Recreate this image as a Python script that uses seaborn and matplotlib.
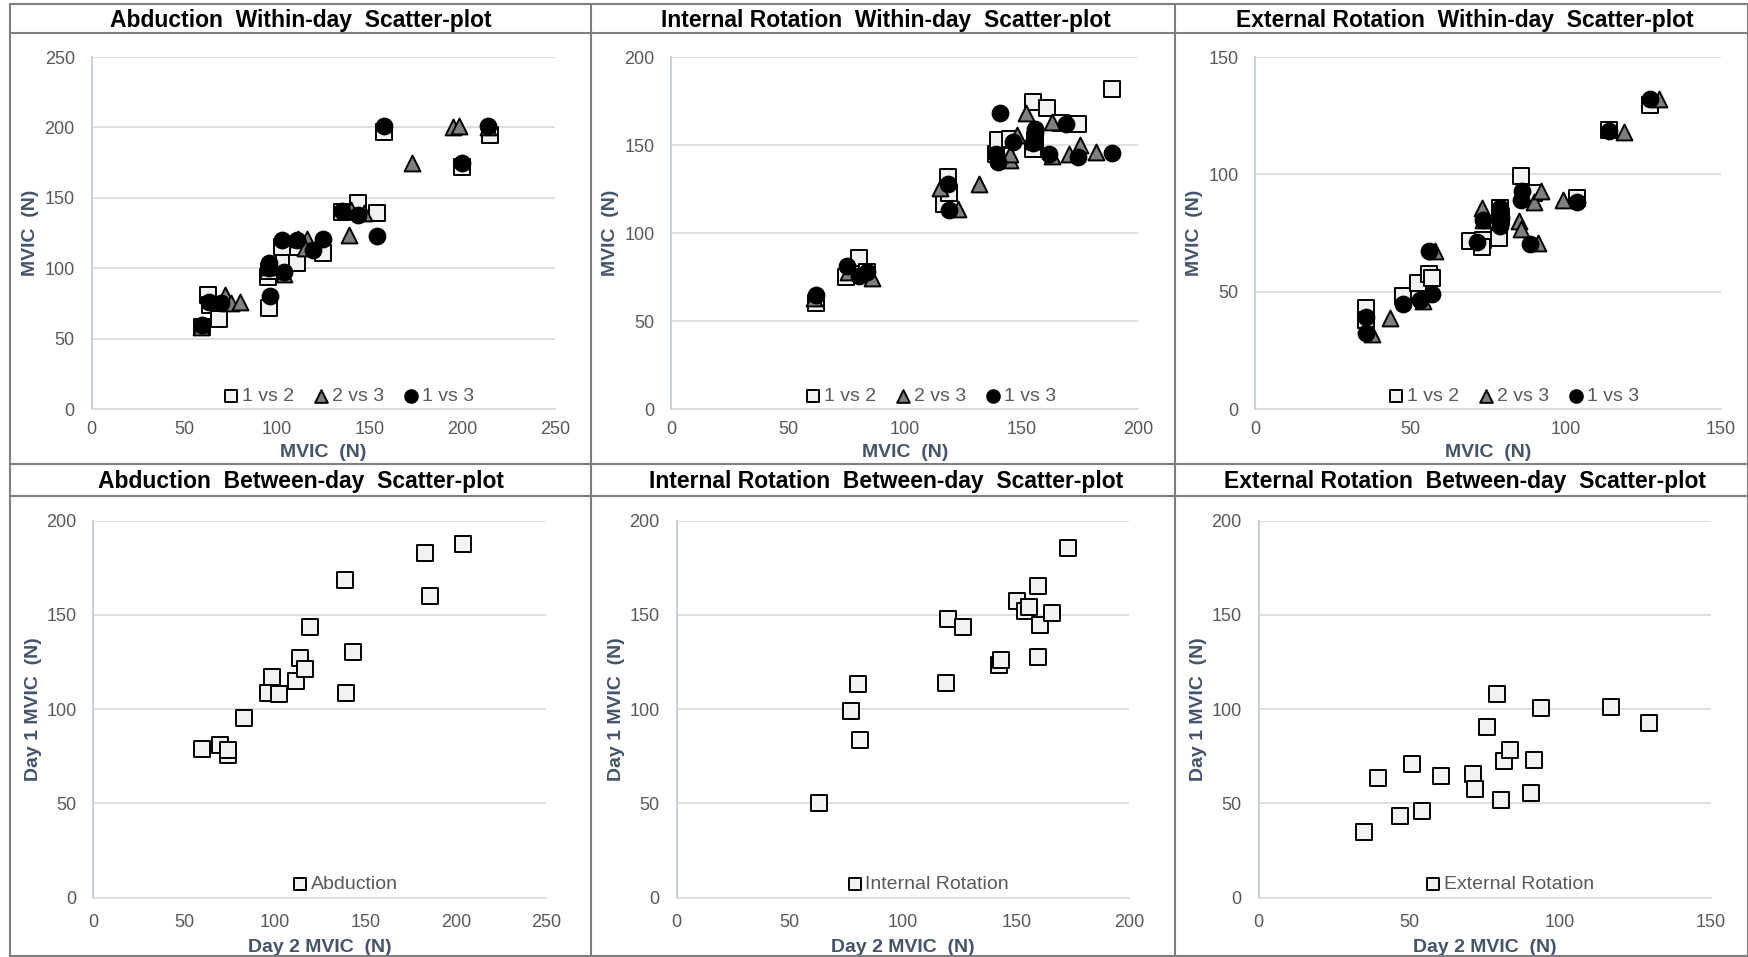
import numpy as np
import pandas as pd
import seaborn as sns
import matplotlib.pyplot as plt
from matplotlib.lines import Line2D

##################################################################
# Data
##################################################################
# Abduction within-day
abd_12_x = [59.5, 63, 64, 69, 96, 95, 96, 103, 104, 111, 125, 135, 143.5, 154, 158, 200, 215]
abd_12_y = [58, 81, 74, 64, 72, 94, 98, 115, 104, 103.5, 110.6, 140, 146.5, 139, 197, 172, 194.5]
abd_23_x = [59, 72, 75, 80, 95, 104, 111.5, 116, 115, 139, 140, 147, 173, 195, 198, 214]
abd_23_y = [58.5, 81, 75, 76, 101, 96, 121, 121, 114, 123.6, 141, 139, 175, 200, 201, 200]
abd_13_x = [59.5, 63.5, 70, 96.5, 95.5, 95.5, 103, 104, 111, 119.5, 125, 135, 144, 154, 158, 200, 214]
abd_13_y = [60, 76, 75, 80, 103.5, 100, 120, 97.6, 120, 113, 120.5, 140.6, 138, 123, 201, 175, 201]

# Internal rotation within-day
ir_12_x = [62, 75, 80.5, 84, 117, 118.5, 119, 139, 140, 145, 155, 156, 155, 161, 167, 174.4, 189]
ir_12_y = [60.4, 75, 86, 78, 116.6, 132, 122.6, 145, 153, 153.4, 174.5, 153, 148, 170.8, 162.5, 162, 182]
ir_23_x = [61, 75.5, 86, 115, 123, 132, 145, 145, 148, 152, 155, 163, 163, 170.5, 175, 182]
ir_23_y = [63, 78, 74.5, 125.5, 113.6, 128, 141.5, 145, 155.7, 168, 152, 163, 144, 145, 150, 146]
ir_13_x = [62, 75.4, 80.5, 84, 118.5, 119, 141, 140, 139, 146.5, 156, 155, 156, 162, 169, 174.4, 189]
ir_13_y = [65, 81, 75.5, 77.7, 128, 113, 168, 140.6, 145, 151.5, 156.6, 151, 159, 145, 162, 143, 145.7]

# External rotation within-day
er_12_x = [35.6, 35.6, 47.6, 52.4, 56, 57, 69, 73.4, 73, 78.4, 78.9, 79, 85.7, 89.6, 103.7, 113.8, 127]
er_12_y = [43, 38, 48, 53.8, 57.7, 56, 71.5, 72, 69, 73, 85.6, 82, 99.3, 92, 90, 118.9, 129.5]
er_23_x = [37.4, 43.3, 54, 58, 73, 73.3, 85, 85.4, 89.6, 92, 91, 99, 118.8, 130]
er_23_y = [31.8, 38.9, 46, 67.2, 85.6, 80.6, 80, 76.7, 88.4, 92.7, 70.7, 89, 118, 131.9]
er_13_x = [35.6, 35.6, 47.6, 53, 57, 56, 71.3, 73.3, 78.7, 79, 78.7, 86, 85.7, 88.4, 103.7, 113.8, 127.2]
er_13_y = [39.2, 32.3, 44.6, 46.3, 49, 67.2, 71.2, 80.6, 77.8, 81.4, 85.6, 92.7, 89, 70.3, 88, 118.4, 131.9]

# Between-day (Day 2 vs Day 1)
abd_day2 = [60, 69.8, 74.3, 74.3, 83.3, 96.5, 98.6, 102.3, 111.8, 113.7, 116.8, 119.3, 138.8, 139.2, 143.1, 182.7, 185.8, 203.8]
abd_day1 = [78.6, 80.7, 75.4, 78.2, 95.3, 108.4, 117.2, 107.7, 115.1, 127.1, 121.4, 143.3, 168.6, 108.4, 130.3, 182.5, 160.1, 187.6]
ir_day2 = [62.7, 77.2, 80.1, 80.8, 119.2, 120, 126.3, 142.3, 143.1, 150.5, 153.8, 155.5, 159.6, 160.4, 165.7, 159.6, 172.8]
ir_day1 = [50.3, 99.2, 113.3, 83.7, 113.7, 147.9, 143.3, 123.6, 126.2, 157.5, 151.8, 153.9, 165, 144.7, 150.9, 127.5, 185.3]
er_day2 = [35, 39.5, 46.8, 51, 54.3, 60.5, 71.1, 71.9, 75.9, 79, 80.5, 81.4, 83.6, 90.5, 91.3, 93.9, 117, 129.7]
er_day1 = [35, 63.2, 43.2, 70.6, 45.9, 64.4, 65.7, 57.4, 90.7, 107.7, 51.7, 72.4, 78, 55.6, 72.9, 100.3, 101, 92.7]

pair_labels = ['1 vs 2', '2 vs 3', '1 vs 3']

##################################################################
# Styling
##################################################################
sns.set_theme(style='white')
plt.rcParams['font.family'] = ['Liberation Sans', 'DejaVu Sans']

TICK_COLOR = '#595959'
LABEL_COLOR = '#44546a'
GRID_COLOR = '#d9d9d9'
BORDER_COLOR = '#7f7f7f'

marker_styles = {
    '1 vs 2': dict(marker='s', color='#f2f2f2', s=125),
    '2 vs 3': dict(marker='^', color='#7f7f7f', s=130),
    '1 vs 3': dict(marker='o', color='black', s=130),
    'single': dict(marker='s', color='#f2f2f2', s=125),
}

W, H = 1749, 957
fig = plt.figure(figsize=(W / 100, H / 100), dpi=100)


def add_axes_px(left, top, right, bottom):
    return fig.add_axes([left / W, 1 - bottom / H, (right - left) / W, (bottom - top) / H])


def style_axes(ax, xmax, ymax, xlabel, ylabel, xpad, xlabelpad, ylabelpad):
    ax.set_xlim(0, xmax)
    ax.set_ylim(0, ymax)
    ax.set_xticks(np.arange(0, xmax + 1, 50))
    ax.set_yticks(np.arange(0, ymax + 1, 50))
    ax.tick_params(length=0, labelsize=13, labelcolor=TICK_COLOR)
    ax.tick_params(axis='x', pad=xpad)
    ax.tick_params(axis='y', pad=12)
    ax.yaxis.grid(True, color=GRID_COLOR, linewidth=1.2)
    ax.xaxis.grid(False)
    ax.set_axisbelow(True)
    for side in ['top', 'right']:
        ax.spines[side].set_visible(False)
    ax.spines['left'].set_color('#c3cbd8')
    ax.spines['left'].set_linewidth(1.3)
    ax.spines['bottom'].set_color(GRID_COLOR)
    ax.spines['bottom'].set_linewidth(1.2)
    ax.set_xlabel(xlabel, fontsize=14, fontweight='bold', color=LABEL_COLOR, labelpad=xlabelpad)
    ax.set_ylabel(ylabel, fontsize=14, fontweight='bold', color=LABEL_COLOR, labelpad=ylabelpad)
    ax.set_facecolor('white')


def add_legend(ax, ncol):
    ax.legend(loc='center', bbox_to_anchor=(0.553, 0.035), ncol=ncol, frameon=False,
              fontsize=14, labelcolor=TICK_COLOR, handletextpad=0.05, columnspacing=0.9,
              handlelength=1.0, markerscale=0.8, borderpad=0, borderaxespad=0)


##################################################################
# Within-day panels (top row)
##################################################################
within_panels = [
    ((91.5, 57, 555, 409), 250, 250,
     [(abd_12_x, abd_12_y), (abd_23_x, abd_23_y), (abd_13_x, abd_13_y)]),
    ((671.5, 57, 1138, 409), 200, 200,
     [(ir_12_x, ir_12_y), (ir_23_x, ir_23_y), (ir_13_x, ir_13_y)]),
    ((1255.5, 57, 1721, 409), 150, 150,
     [(er_12_x, er_12_y), (er_23_x, er_23_y), (er_13_x, er_13_y)]),
]

for box, xmax, ymax, series in within_panels:
    ax = add_axes_px(*box)
    for (xs, ys), label in zip(series, pair_labels):
        st = marker_styles[label]
        sns.scatterplot(x=xs, y=ys, ax=ax, marker=st['marker'], color=st['color'], s=st['s'],
                        edgecolor='black', linewidth=1.4, label=label, zorder=3, clip_on=False)
    style_axes(ax, xmax, ymax, 'MVIC  (N)', 'MVIC  (N)', xpad=9, xlabelpad=4, ylabelpad=4)
    add_legend(ax, 3)

##################################################################
# Between-day panels (bottom row)
##################################################################
between_panels = [
    ((93.5, 520.5, 546.5, 897.5), 250, 200, abd_day2, abd_day1, 'Abduction'),
    ((676.5, 520.5, 1129.5, 897.5), 200, 200, ir_day2, ir_day1, 'Internal Rotation'),
    ((1258.5, 520.5, 1710.5, 897.5), 150, 200, er_day2, er_day1, 'External Rotation'),
]

for box, xmax, ymax, xs, ys, label in between_panels:
    ax = add_axes_px(*box)
    st = marker_styles['single']
    sns.scatterplot(x=xs, y=ys, ax=ax, marker=st['marker'], color=st['color'], s=st['s'],
                    edgecolor='black', linewidth=1.4, label=label, zorder=3, clip_on=False)
    style_axes(ax, xmax, ymax, 'Day 2 MVIC  (N)', 'Day 1 MVIC  (N)', xpad=12, xlabelpad=6, ylabelpad=3)
    add_legend(ax, 1)

##################################################################
# Cell borders and titles
##################################################################
def hline(y, x0, x1):
    fig.add_artist(Line2D([x0 / W, x1 / W], [1 - y / H, 1 - y / H], color=BORDER_COLOR, linewidth=1.5))


def vline(x, y0, y1):
    fig.add_artist(Line2D([x / W, x / W], [1 - y0 / H, 1 - y1 / H], color=BORDER_COLOR, linewidth=1.5))


for y in [4, 33, 464, 496, 956]:
    hline(y, 10, 1748)
for x in [10, 591, 1175, 1748]:
    vline(x, 4, 956)

titles_top = ['Abduction  Within-day  Scatter-plot',
              'Internal Rotation  Within-day  Scatter-plot',
              'External Rotation  Within-day  Scatter-plot']
titles_bottom = ['Abduction  Between-day  Scatter-plot',
                 'Internal Rotation  Between-day  Scatter-plot',
                 'External Rotation  Between-day  Scatter-plot']
col_centers = [301, 886, 1465]

for cx, t in zip(col_centers, titles_top):
    fig.text(cx / W, 1 - 20.5 / H, t, ha='center', va='center', fontsize=16.5,
             fontweight='bold', color='black')
for cx, t in zip(col_centers, titles_bottom):
    fig.text(cx / W, 1 - 481.5 / H, t, ha='center', va='center', fontsize=16.5,
             fontweight='bold', color='black')

fig.savefig('out.png', dpi=100, facecolor='white')
